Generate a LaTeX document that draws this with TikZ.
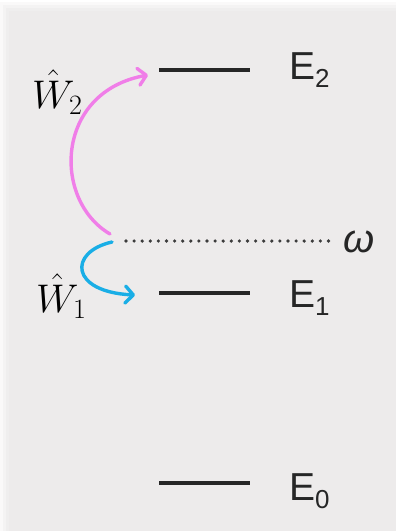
\documentclass[tikz,border=0pt]{standalone}
\usepackage{fix-cm}
\usepackage{fontspec}
\usepackage{amsmath}
\usetikzlibrary{arrows.meta}
\newfontfamily\pLevelFont{Liberation Sans}
\definecolor{pBack}{HTML}{EDEBEB}
\definecolor{pLine}{HTML}{262626}
\definecolor{pPink}{HTML}{F07EE8}
\definecolor{pBlue}{HTML}{1AAEE6}
\newcommand{\pLevel}[1]{\pLevelFont\fontsize{39}{39}\selectfont E\raisebox{-8pt}{\fontsize{26}{26}\selectfont #1}}
\newcommand{\pBig}{\fontsize{40}{40}\selectfont}

\begin{document}
\begin{tikzpicture}[x=1pt,y=-1pt,
  level/.style={draw=pLine, line width=3.6pt},
  lbl/.style={anchor=base west, inner sep=0pt, text=pLine},
  trans/.style={line width=3.4pt, line cap=round, -{Straight Barb[length=8pt,width=17pt,line cap=round,line join=round]}},
  dotline/.style={draw=pLine!90, line width=3.6pt, line cap=round, dash pattern=on 0pt off 8.1pt}]
\useasboundingbox (0,0) rectangle (396,531);
\fill[white] (0,0) rectangle (396,531);
\foreach \d/\o in {0/0.25,3/0.4,6/0.6,9/1}
  \fill[pBack,opacity=\o] (\d,2+\d) rectangle (396,531);
% energy levels
\coordinate (lvlTwoL) at (159,70);
\coordinate (lvlTwoR) at (250,70);
\coordinate (lvlOneL) at (159,293);
\coordinate (lvlOneR) at (250,293);
\coordinate (lvlZeroL) at (159,483);
\coordinate (lvlZeroR) at (250,483);
\draw[level] (lvlTwoL) -- (lvlTwoR);
\draw[level] (lvlOneL) -- (lvlOneR);
\draw[level] (lvlZeroL) -- (lvlZeroR);
\node[lbl] (eTwo) at (289,79) {\pLevel{2}};
\node[lbl] (eOne) at (289,307) {\pLevel{1}};
\node[lbl] (eZero) at (289,500) {\pLevel{0}};
% photon energy
\coordinate (omStart) at (126,241);
\coordinate (omEnd) at (336,241);
\draw[dotline] (omStart) -- (omEnd);
\node[lbl] (om) at (343,252) {\pLevelFont\pBig\itshape ω};
% transitions
\coordinate (wTwoStart) at (110,234);
\coordinate (wTwoEnd) at (148,75);
\coordinate (wOneStart) at (112,242);
\coordinate (wOneEnd) at (135,295);
\draw[trans, pPink] (wTwoStart) .. controls (52,200) and (55,92) .. (wTwoEnd);
\draw[trans, pBlue] (wOneStart) .. controls (68,252) and (70,292) .. (wOneEnd);
\node[lbl, text=black] (wTwo) at (32,108) {\pBig$\hat{W}_2$};
\node[lbl, text=black] (wOne) at (36,312) {\pBig$\hat{W}_1$};
\end{tikzpicture}
\end{document}
